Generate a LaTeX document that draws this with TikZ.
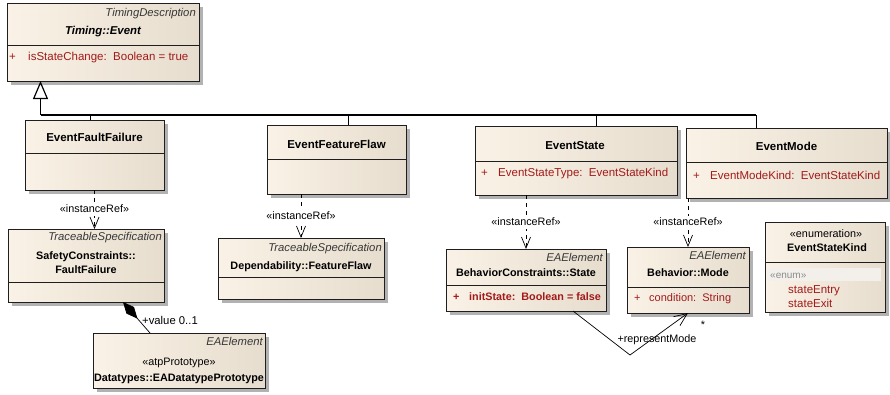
\documentclass[tikz,border=0pt]{standalone}
\usepackage{fontspec}
\setmainfont{Liberation Sans}
\usetikzlibrary{arrows.meta,shadows}

\definecolor{boxL}{RGB}{250,242,230}
\definecolor{boxR}{RGB}{230,221,206}
\definecolor{attrRed}{RGB}{163,26,26}
\definecolor{stereoGray}{RGB}{55,55,55}
\definecolor{enumBand}{RGB}{243,240,235}
\definecolor{lineGray}{RGB}{30,30,30}

\begin{document}
\begin{tikzpicture}[x=1pt, y=-1pt, font=\fontsize{10.8}{13}\selectfont,
  cls/.style={draw=lineGray, line width=0.8pt, left color=boxL, middle color=boxL, right color=boxR,
    inner sep=0pt, outer sep=0pt, anchor=north west,
    drop shadow={shadow xshift=3.5pt, shadow yshift=-3.5pt, fill=black!30, opacity=1}},
  txt/.style={inner sep=0pt, text height=8pt, text depth=2pt},
  stereo/.style={txt, font=\fontsize{11.3}{13}\selectfont\itshape, text=stereoGray, anchor=east},
  cname/.style={txt, font=\fontsize{10.8}{13}\selectfont\bfseries},
  cnameL/.style={txt, font=\fontsize{11.5}{13}\selectfont\bfseries},
  attr/.style={txt, font=\fontsize{11.5}{13}\selectfont, text=attrRed, anchor=west},
  attrB/.style={txt, font=\fontsize{10.8}{13}\selectfont\bfseries, text=attrRed, anchor=west},
  sep/.style={draw=lineGray, line width=0.8pt},
  gen/.style={draw=black, line width=1.3pt},
  drop/.style={draw=black, line width=0.8pt},
  dep/.style={draw=black, line width=0.7pt, dash pattern=on 4pt off 4pt,
    -{Straight Barb[length=11pt, width=9pt, line width=0.7pt]}},
  lbl/.style={txt, fill=white, inner sep=1.5pt}]
  \useasboundingbox (0,0) rectangle (890,394);

  % classes: top row
  \node[cls, minimum width=192, minimum height=78] (event) at (7,3) {};
  \node[cls, minimum width=139, minimum height=70] (fault) at (25,120) {};
  \node[cls, minimum width=139, minimum height=69] (flaw) at (267,125) {};
  \node[cls, minimum width=202, minimum height=69] (evstate) at (475,126) {};
  \node[cls, minimum width=201, minimum height=70] (evmode) at (686,128) {};
  % classes: bottom row
  \node[cls, minimum width=156, minimum height=73] (ff) at (8,229) {};
  \node[cls, minimum width=166, minimum height=61] (ffl) at (218,238) {};
  \node[cls, minimum width=160, minimum height=62] (bstate) at (446,249) {};
  \node[cls, minimum width=122, minimum height=66] (bmode) at (627,247) {};
  \node[cls, minimum width=120, minimum height=90] (kind) at (765,222) {};
  \node[cls, minimum width=172, minimum height=55] (proto) at (93,333) {};

  % compartments
  \draw[sep] (event.west |- 0,45) -- (event.east |- 0,45);
  \draw[sep] (fault.west |- 0,153) -- (fault.east |- 0,153);
  \draw[sep] (flaw.west |- 0,159) -- (flaw.east |- 0,159);
  \draw[sep] (evstate.west |- 0,161) -- (evstate.east |- 0,161);
  \draw[sep] (evmode.west |- 0,162) -- (evmode.east |- 0,162);
  \draw[sep] (ff.west |- 0,282) -- (ff.east |- 0,282);
  \draw[sep] (ffl.west |- 0,277) -- (ffl.east |- 0,277);
  \draw[sep] (bstate.west |- 0,285) -- (bstate.east |- 0,285);
  \draw[sep] (bmode.west |- 0,287) -- (bmode.east |- 0,287);
  \draw[sep] (kind.west |- 0,262) -- (kind.east |- 0,262);
  \fill[enumBand] (766.5,268) rectangle (881,281);

  % texts
  \node[stereo] (eventSt) at (196,13) {TimingDescription};
  \node[cnameL, font=\fontsize{11.4}{13}\selectfont\bfseries\itshape] (eventNm) at (103,31) {Timing::Event};
  \node[attr] (eventPl) at (9,57) {+};
  \node[attr] (eventAt) at (28,57) {isStateChange:\ \ Boolean = true};

  \node[cnameL] (faultNm) at (94.5,138) {EventFaultFailure};
  \node[cnameL] (flawNm) at (336.5,145) {EventFeatureFlaw};
  \node[cnameL] (evstateNm) at (575,146) {EventState};
  \node[attr] (evstatePl) at (481,173) {+};
  \node[attr] (evstateAt) at (498,173) {EventStateType:\ \ EventStateKind};
  \node[cnameL] (evmodeNm) at (786.5,147) {EventMode};
  \node[attr] (evmodePl) at (693,176) {+};
  \node[attr] (evmodeAt) at (710,176) {EventModeKind:\ \ EventStateKind};

  \node[stereo] (ffSt) at (162,237) {TraceableSpecification};
  \node[cname] (ffNm1) at (86,256) {SafetyConstraints::};
  \node[cname] (ffNm2) at (86,270) {FaultFailure};
  \node[stereo] (fflSt) at (382,248) {TraceableSpecification};
  \node[cname] (fflNm) at (301,266) {Dependability::FeatureFlaw};
  \node[stereo] (bstateSt) at (603,258) {EAElement};
  \node[cname] (bstateNm) at (526,273) {BehaviorConstraints::State};
  \node[attrB] (bstatePl) at (453,297) {+};
  \node[attrB] (bstateAt) at (469,297) {initState:\ \ Boolean = false};
  \node[stereo] (bmodeSt) at (746,256) {EAElement};
  \node[cname] (bmodeNm) at (688,273) {Behavior::Mode};
  \node[attr, font=\fontsize{11}{13}\selectfont] (bmodePl) at (634,298) {+};
  \node[attr, font=\fontsize{11}{13}\selectfont] (bmodeAt) at (649,298) {condition:\ \ String};
  \node[txt] (kindSt) at (826,234) {«enumeration»};
  \node[cname] (kindNm) at (827,248) {EventStateKind};
  \node[txt, anchor=west, font=\fontsize{10}{12}\selectfont, text=black!45] (kindEn) at (770,275) {«enum»};
  \node[attr] (kindA) at (788,290) {stateEntry};
  \node[attr] (kindB) at (788,304) {stateExit};
  \node[stereo] (protoSt) at (263,342) {EAElement};
  \node[txt] (protoSy) at (179,362) {«atpPrototype»};
  \node[cname] (protoNm) at (179,378) {Datatypes::EADatatypePrototype};

  % generalization tree
  \coordinate (hub) at (40.5,115);
  \coordinate (busEnd) at (756,115);
  \draw[gen, -{Triangle[open, length=18pt, width=15pt, line width=1.2pt]}] (hub) -- (hub |- event.south);
  \draw[gen] (hub) -- (busEnd);
  \draw[drop] (busEnd) -- (busEnd |- evmode.north);
  \draw[drop] (90,115) -- (fault.north -| 90,0);
  \draw[drop] (348,115) -- (flaw.north -| 348,0);
  \draw[drop] (596,115) -- (evstate.north -| 596,0);

  % instanceRef dependencies
  \draw[dep] (fault.south) -- (fault.south |- ff.north) node[lbl, pos=0.5] (depA) {«instanceRef»};
  \draw[dep] (flaw.south -| ffl.north) -- (ffl.north) node[lbl, pos=0.5] (depB) {«instanceRef»};
  \draw[dep] (evstate.south -| bstate.north) -- (bstate.north) node[lbl, pos=0.5] (depC) {«instanceRef»};
  \draw[dep] (evmode.south -| bmode.north) -- (bmode.north) node[lbl, pos=0.5] (depD) {«instanceRef»};

  % composition value
  \draw[line width=0.7pt, {Diamond[length=22pt, width=10pt]}-] ([xshift=-41pt]ff.south east) -- ([xshift=57pt]proto.north west);
  \node[txt, anchor=west, font=\fontsize{11.3}{13}\selectfont] (valLbl) at (142,321) {+value 0..1};

  % association representMode
  \coordinate (bend) at (630,355);
  \draw[line width=0.7pt, -{Straight Barb[length=13pt, width=11pt, line width=0.7pt]}]
    ([xshift=-33pt]bstate.south east) -- (bend) -- ([xshift=61pt]bmode.south west);
  \node[txt] (repLbl) at (657,339) {+representMode};
  \node[txt] (repMul) at (703,325) {*};
\end{tikzpicture}
\end{document}
